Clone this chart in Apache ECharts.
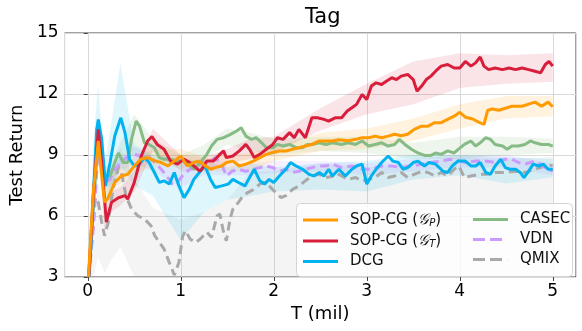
<!DOCTYPE html>
<html>
<head>
<meta charset="utf-8">
<script src="https://cdn.jsdelivr.net/npm/echarts@6/dist/echarts.min.js"></script>
<style>
  html, body { margin: 0; padding: 0; background: #fff; }
  #chart { width: 582px; height: 331px; }
</style>
</head>
<body>
<div id="chart"></div>
<script>
// mean curves, [T (mil), return]
const sopGP = [[0.007,3.0],[0.06,7.2],[0.113,9.69],[0.15,8.0],[0.18,6.67],[0.22,6.9],[0.29,7.65],[0.36,7.97],[0.43,8.05],[0.5,8.46],[0.57,8.79],[0.645,8.87],[0.72,8.71],[0.79,8.63],[0.86,8.46],[0.93,8.7],[1.0,8.95],[1.07,8.46],[1.14,8.63],[1.19,8.7],[1.24,8.55],[1.32,8.3],[1.37,8.38],[1.44,8.46],[1.49,8.63],[1.56,8.7],[1.63,8.46],[1.7,8.55],[1.78,8.7],[1.85,8.87],[1.92,9.03],[1.99,9.12],[2.06,9.2],[2.13,9.2],[2.2,9.28],[2.27,9.36],[2.34,9.44],[2.41,9.52],[2.49,9.69],[2.56,9.69],[2.63,9.69],[2.7,9.75],[2.8,9.7],[2.88,9.77],[2.95,9.85],[3.02,9.85],[3.09,9.93],[3.16,9.85],[3.23,9.93],[3.3,10.02],[3.37,9.95],[3.44,10.02],[3.51,10.26],[3.59,10.42],[3.66,10.42],[3.73,10.59],[3.8,10.59],[3.87,10.75],[3.94,10.91],[4.0,11.1],[4.06,10.86],[4.14,10.77],[4.21,10.6],[4.26,10.5],[4.3,11.2],[4.35,11.26],[4.42,11.2],[4.49,11.3],[4.56,11.4],[4.67,11.4],[4.74,11.5],[4.81,11.6],[4.88,11.4],[4.95,11.6],[5.0,11.37]];
const sopGT = [[0.01,3.0],[0.06,7.0],[0.113,10.26],[0.149,8.6],[0.2,5.7],[0.255,6.67],[0.33,6.9],[0.4,7.0],[0.43,6.83],[0.5,7.65],[0.575,8.95],[0.645,9.7],[0.69,9.9],[0.75,9.5],[0.82,9.28],[0.89,8.7],[0.965,8.55],[1.03,8.8],[1.1,8.63],[1.18,8.3],[1.21,8.2],[1.28,8.7],[1.35,8.7],[1.42,9.03],[1.46,9.2],[1.49,8.87],[1.56,8.95],[1.63,9.2],[1.7,9.52],[1.74,9.28],[1.79,8.87],[1.85,9.03],[1.92,9.28],[1.99,9.52],[2.04,9.85],[2.1,9.77],[2.17,10.1],[2.22,9.85],[2.27,10.26],[2.34,9.85],[2.41,10.83],[2.47,10.83],[2.54,10.75],[2.59,10.67],[2.66,10.83],[2.73,10.83],[2.79,11.16],[2.84,11.32],[2.89,11.49],[2.95,11.98],[3.0,11.73],[3.05,12.39],[3.1,12.55],[3.16,12.47],[3.21,12.63],[3.27,12.8],[3.32,12.71],[3.37,12.88],[3.44,12.96],[3.5,12.71],[3.54,12.14],[3.59,12.39],[3.64,12.71],[3.69,12.88],[3.74,13.12],[3.8,13.37],[3.87,13.45],[3.94,13.28],[4.0,13.28],[4.06,13.6],[4.12,13.37],[4.17,13.53],[4.22,13.82],[4.26,13.37],[4.31,13.2],[4.38,13.28],[4.46,13.2],[4.53,13.28],[4.6,13.2],[4.67,13.28],[4.74,13.2],[4.81,13.12],[4.87,13.04],[4.92,13.45],[4.96,13.6],[5.0,13.37]];
const dcg = [[0.01,3.0],[0.025,3.75],[0.06,7.0],[0.096,10.26],[0.113,10.75],[0.15,9.77],[0.19,7.48],[0.24,8.63],[0.29,9.93],[0.355,10.83],[0.4,10.1],[0.45,8.79],[0.5,8.46],[0.557,8.55],[0.61,8.87],[0.66,8.63],[0.716,8.14],[0.77,7.65],[0.82,7.73],[0.876,7.57],[0.93,8.14],[0.98,7.48],[1.035,6.9],[1.09,7.3],[1.14,7.8],[1.21,8.2],[1.26,8.46],[1.32,7.8],[1.37,7.4],[1.44,7.48],[1.51,7.57],[1.56,7.8],[1.62,7.65],[1.69,7.48],[1.74,7.89],[1.79,8.3],[1.85,7.73],[1.9,7.57],[1.95,7.8],[2.0,7.65],[2.06,7.97],[2.13,8.3],[2.18,8.63],[2.24,8.46],[2.31,8.3],[2.38,8.05],[2.43,7.97],[2.49,8.14],[2.54,7.97],[2.59,8.3],[2.63,7.97],[2.7,8.3],[2.77,7.97],[2.84,8.3],[2.89,8.46],[2.95,8.55],[3.0,7.57],[3.05,7.97],[3.1,8.3],[3.16,8.63],[3.23,8.95],[3.28,8.7],[3.34,8.63],[3.39,8.3],[3.44,8.38],[3.5,8.63],[3.55,8.7],[3.62,8.46],[3.67,8.63],[3.74,8.55],[3.82,8.2],[3.87,8.14],[3.92,8.46],[3.98,8.7],[4.06,8.7],[4.12,8.46],[4.17,8.46],[4.22,8.63],[4.28,8.14],[4.33,8.05],[4.38,8.46],[4.44,8.79],[4.49,8.38],[4.54,8.3],[4.6,8.3],[4.65,8.14],[4.69,7.89],[4.74,8.2],[4.79,8.55],[4.85,8.46],[4.9,8.55],[4.95,8.3],[5.0,8.3]];
const casec = [[0.01,3.0],[0.06,6.5],[0.113,9.77],[0.18,7.97],[0.24,7.97],[0.29,8.63],[0.33,9.1],[0.38,8.63],[0.43,8.63],[0.47,9.77],[0.52,10.67],[0.557,10.42],[0.61,9.6],[0.66,9.52],[0.716,9.36],[0.77,8.87],[0.82,8.79],[0.89,8.79],[0.965,8.7],[1.03,8.7],[1.09,8.5],[1.14,8.3],[1.21,8.63],[1.28,9.03],[1.33,9.44],[1.39,9.77],[1.46,9.85],[1.53,10.0],[1.6,10.18],[1.65,10.34],[1.7,9.93],[1.76,9.77],[1.81,9.85],[1.87,9.6],[1.92,9.36],[1.99,9.36],[2.04,9.52],[2.1,9.44],[2.17,9.52],[2.24,9.36],[2.31,9.36],[2.36,9.52],[2.41,9.52],[2.49,9.6],[2.56,9.52],[2.63,9.6],[2.73,9.52],[2.8,9.6],[2.88,9.52],[2.95,9.69],[3.02,9.44],[3.09,9.52],[3.16,9.6],[3.23,9.44],[3.3,9.52],[3.35,9.77],[3.41,9.52],[3.48,9.28],[3.55,9.1],[3.62,8.98],[3.69,8.98],[3.74,9.1],[3.8,9.03],[3.87,9.2],[3.94,9.1],[3.99,9.3],[4.05,9.52],[4.12,9.69],[4.17,9.44],[4.22,9.6],[4.28,9.85],[4.33,9.77],[4.38,9.52],[4.46,9.44],[4.51,9.28],[4.56,9.44],[4.63,9.44],[4.7,9.52],[4.76,9.69],[4.81,9.6],[4.88,9.52],[4.95,9.52],[5.0,9.44]];
const vdn = [[0.01,3.0],[0.06,5.4],[0.113,9.4],[0.18,7.65],[0.24,7.8],[0.29,8.3],[0.36,8.63],[0.43,8.95],[0.5,9.03],[0.57,8.95],[0.645,8.95],[0.72,8.63],[0.79,8.3],[0.86,7.89],[0.91,7.57],[0.965,7.65],[1.03,8.05],[1.1,8.3],[1.18,8.46],[1.25,8.63],[1.32,8.7],[1.37,8.87],[1.44,8.55],[1.49,7.97],[1.55,8.2],[1.62,8.3],[1.7,8.2],[1.78,8.3],[1.85,8.38],[1.92,8.46],[1.99,8.38],[2.06,8.2],[2.13,8.3],[2.2,8.14],[2.27,8.2],[2.34,8.3],[2.41,8.38],[2.49,8.46],[2.56,8.46],[2.63,8.55],[2.73,8.38],[2.84,8.46],[2.95,8.3],[3.05,8.3],[3.16,8.46],[3.27,8.46],[3.37,8.38],[3.48,8.46],[3.59,8.55],[3.69,8.63],[3.8,8.7],[3.9,8.79],[4.0,8.7],[4.06,8.63],[4.17,8.7],[4.28,8.7],[4.38,8.63],[4.49,8.79],[4.56,8.79],[4.63,8.63],[4.7,8.55],[4.81,8.7],[4.92,8.38],[5.0,8.2]];
const qmix = [[0.01,3.0],[0.025,3.75],[0.08,6.9],[0.113,6.67],[0.15,5.68],[0.18,5.03],[0.22,5.68],[0.27,7.3],[0.33,8.4],[0.36,8.2],[0.41,7.0],[0.47,6.34],[0.54,6.0],[0.61,5.85],[0.68,5.52],[0.72,5.03],[0.77,4.7],[0.82,4.38],[0.876,3.72],[0.93,3.1],[0.98,3.72],[1.02,5.0],[1.05,5.28],[1.1,4.87],[1.16,4.7],[1.21,4.87],[1.28,5.2],[1.33,4.95],[1.39,6.0],[1.42,6.1],[1.46,5.2],[1.49,4.78],[1.53,5.85],[1.56,6.34],[1.62,6.67],[1.67,7.0],[1.72,7.15],[1.78,7.3],[1.85,7.57],[1.9,7.65],[1.95,7.48],[2.02,7.15],[2.08,6.9],[2.13,7.0],[2.2,7.3],[2.27,7.48],[2.34,7.73],[2.41,7.97],[2.49,8.05],[2.56,7.89],[2.63,7.95],[2.66,8.14],[2.73,7.97],[2.8,7.8],[2.88,7.89],[2.95,7.73],[3.02,7.8],[3.09,7.89],[3.16,8.14],[3.23,7.89],[3.3,7.97],[3.37,8.14],[3.44,7.89],[3.51,8.05],[3.59,8.2],[3.66,8.14],[3.73,7.97],[3.8,8.14],[3.87,7.97],[3.94,8.3],[3.99,8.46],[4.05,7.89],[4.12,7.97],[4.21,8.05],[4.28,8.05],[4.38,8.14],[4.49,8.14],[4.6,8.2],[4.7,8.14],[4.81,8.3],[4.92,8.46],[5.0,8.5]];

// shaded spread, read at these T values
const bandX = [0, 0.06, 0.11, 0.18, 0.25, 0.35, 0.5, 0.7, 1.0, 1.25, 1.5, 1.75, 2.0, 2.5, 3.0, 3.5, 4.0, 4.5, 5.0];
const sopGPLo = [3, 6.0, 8.8, 6.2, 7.3, 7.6, 8.1, 8.4, 8.6, 8.2, 8.2, 8.2, 8.7, 9.2, 9.3, 9.7, 10.3, 10.8, 10.9];
const sopGPHi = [3, 7.5, 10.3, 7.5, 8.2, 8.5, 8.9, 9.3, 9.3, 8.9, 9.0, 9.1, 9.4, 10.1, 10.3, 10.8, 11.5, 11.9, 11.9];
const sopGTLo = [3, 5.5, 9.3, 5.3, 6.2, 6.5, 7.2, 9.2, 8.2, 8.2, 8.6, 8.8, 9.1, 10.2, 11.0, 11.5, 12.3, 12.5, 12.6];
const sopGTHi = [3, 7.5, 11.0, 6.6, 7.2, 7.4, 8.2, 10.3, 9.0, 8.9, 9.3, 9.8, 9.9, 11.3, 12.5, 13.6, 14.0, 13.9, 14.0];
const dcgLo = [3, 6.5, 9.0, 6.8, 7.0, 8.5, 7.5, 7.0, 4.8, 6.2, 6.8, 7.0, 7.2, 7.3, 7.2, 7.8, 8.0, 7.6, 7.9];
const dcgHi = [3, 9.5, 12.5, 8.5, 10.5, 13.5, 9.5, 9.0, 8.8, 8.7, 8.4, 8.6, 8.4, 8.6, 8.7, 9.0, 9.0, 8.9, 8.8];
const casecLo = [3, 5.5, 8.8, 7.4, 7.5, 8.5, 9.0, 8.7, 8.3, 8.8, 9.5, 9.2, 9.0, 9.2, 9.1, 8.8, 8.8, 9.0, 9.1];
const casecHi = [3, 7.0, 10.3, 8.4, 8.6, 9.6, 11.0, 9.8, 9.0, 9.5, 10.3, 10.1, 9.8, 9.9, 9.9, 9.6, 9.9, 9.9, 9.8];
const vdnLo = [3, 5.0, 8.8, 7.3, 7.5, 8.2, 8.6, 8.2, 7.4, 8.0, 8.0, 8.0, 8.1, 8.2, 8.0, 8.2, 8.4, 8.4, 8.0];
const vdnHi = [3, 6.5, 10.0, 8.0, 8.2, 8.9, 9.4, 8.9, 8.2, 8.8, 8.6, 8.6, 8.7, 8.7, 8.6, 8.8, 9.0, 9.0, 8.6];
const qmixLo = [3, 3, 4.0, 3.2, 3.8, 4.5, 3.0, 2, 2, 2, 2, 2, 2, 2, 2, 2, 2, 2, 2];
const qmixHi = [3, 5.0, 7.6, 6.0, 8.2, 9.4, 7.8, 6.4, 5.8, 6.2, 6.8, 8.2, 8.2, 8.6, 8.4, 8.6, 8.9, 8.8, 8.9];

const yTicks = [3, 6, 9, 12, 15];

const methods = [
    { name: 'QMIX', data: qmix, lo: qmixLo, hi: qmixHi, color: '#a9a9a9', fill: 0.13, dashed: true },
    { name: 'VDN', data: vdn, lo: vdnLo, hi: vdnHi, color: '#c99bff', fill: 0.15, dashed: true },
    { name: 'CASEC', data: casec, lo: casecLo, hi: casecHi, color: '#86bb86', fill: 0.15, dashed: false },
    { name: 'DCG', data: dcg, lo: dcgLo, hi: dcgHi, color: '#00b2ee', fill: 0.12, dashed: false },
    { name: 'SOP-CG (GT)', data: sopGT, lo: sopGTLo, hi: sopGTHi, color: '#d81e3a', fill: 0.12, dashed: false },
    { name: 'SOP-CG (GP)', data: sopGP, lo: sopGPLo, hi: sopGPHi, color: '#ff9a00', fill: 0.12, dashed: false }
]

const series = []
methods.forEach(m => {
    // filled band between lo and hi
    series.push({
        type: 'custom', name: m.name + '-band', silent: true, clip: true, z: 1,
        data: bandX.map((x, k) => [x, m.lo[k], m.hi[k]]),
        encode: { x: 0, y: [1, 2] },
        renderItem: (params, api) => {
            if (params.dataIndex !== 0) return
            const top = bandX.map((x, k) => api.coord([x, m.hi[k]]))
            const bottom = bandX.map((x, k) => api.coord([x, m.lo[k]])).reverse()
            return {
                type: 'polygon',
                shape: { points: top.concat(bottom) },
                style: { fill: m.color, opacity: m.fill }
            }
        }
    })
})
methods.forEach((m, i) => {
    series.push({
        type: 'line', name: m.name, data: m.data, symbol: 'none', z: 3 + i,
        itemStyle: { color: m.color },
        lineStyle: { color: m.color, width: 3, type: m.dashed ? [9, 5] : 'solid' }
    })
})

const solidIcon = 'path://M0,0h35v3h-35z'
const dashIcon = 'path://M0,0h12v3h-12zM17,0h12v3h-12zM34.9,0h0.1v3h-0.1z'

const richText = {
    a: { fontSize: 15, fontFamily: 'DejaVu Sans', color: '#111', lineHeight: 18 },
    g: { fontSize: 15, fontFamily: 'DejaVu Serif', fontStyle: 'italic', color: '#111', lineHeight: 18 },
    s: { fontSize: 10, fontFamily: 'DejaVu Sans', fontStyle: 'italic', color: '#111', lineHeight: 18, padding: [6, 0, 0, 0] }
}
function legendLabel(name) {
    const m = name.match(/^SOP-CG \(G(\w)\)$/)
    if (m) return '{a|SOP-CG (}{g|\u{1D4A2}}{s|' + m[1] + '}{a|)}'
    return '{a|' + name + '}'
}
function legendItems(names) {
    return names.map(n => {
        const m = methods.find(d => d.name === n)
        return { name: n, icon: m.dashed ? dashIcon : solidIcon, itemStyle: { color: m.color } }
    })
}
const legendBase = {
    orient: 'vertical', top: 207, itemWidth: 35, itemHeight: 3, itemGap: 5, z: 10,
    formatter: legendLabel, selectedMode: false, symbolKeepAspect: false,
    textStyle: { fontSize: 15, fontFamily: 'DejaVu Sans', color: '#111', padding: [0, 0, 0, 7], rich: richText }
}

const chart = echarts.init(document.getElementById('chart'))
chart.setOption({
    animation: false,
    backgroundColor: '#fff',
    title: {
        text: 'Tag', left: 300, top: 2,
        textStyle: { fontSize: 21, fontWeight: 'normal', fontFamily: 'DejaVu Sans', color: '#000' }
    },
    grid: { left: 59, right: 6, top: 33, bottom: 54, show: true, borderColor: '#444', borderWidth: 1, backgroundColor: 'transparent' },
    legend: [
        Object.assign({}, legendBase, { left: 298, data: legendItems(['SOP-CG (GP)', 'SOP-CG (GT)', 'DCG']) }),
        Object.assign({}, legendBase, { left: 468, data: legendItems(['CASEC', 'VDN', 'QMIX']) })
    ],
    graphic: [{
        type: 'rect', left: 296, top: 203, z: 9,
        shape: { width: 276, height: 73, r: 4 },
        style: { fill: 'rgba(255,255,255,0.8)', stroke: '#d4d4d4', lineWidth: 1 }
    }],
    xAxis: {
        type: 'value', min: -0.25, max: 5.25, splitNumber: 6,
        name: 'T (mil)', nameLocation: 'middle', nameGap: 27,
        nameTextStyle: { fontSize: 18, fontFamily: 'DejaVu Sans', color: '#000' },
        axisLine: { show: false },
        axisTick: { show: true, length: 4, lineStyle: { color: '#444' } },
        axisLabel: { fontSize: 17, fontFamily: 'DejaVu Sans', color: '#000', margin: 6, showMinLabel: false, showMaxLabel: false },
        splitLine: { show: true, lineStyle: { color: '#d9d9d9', width: 1 } }
    },
    yAxis: {
        type: 'value', min: yTicks[0], max: yTicks[yTicks.length - 1], interval: 3,
        name: 'Test Return', nameLocation: 'middle', nameGap: 34,
        nameTextStyle: { fontSize: 18, fontFamily: 'DejaVu Sans', color: '#000' },
        axisLine: { show: false },
        axisTick: { show: true, length: 4, lineStyle: { color: '#444' } },
        axisLabel: { fontSize: 17, fontFamily: 'DejaVu Sans', color: '#000', margin: 6 },
        splitLine: { show: true, lineStyle: { color: '#d9d9d9', width: 1 } }
    },
    series: series
})
</script>
</body>
</html>
